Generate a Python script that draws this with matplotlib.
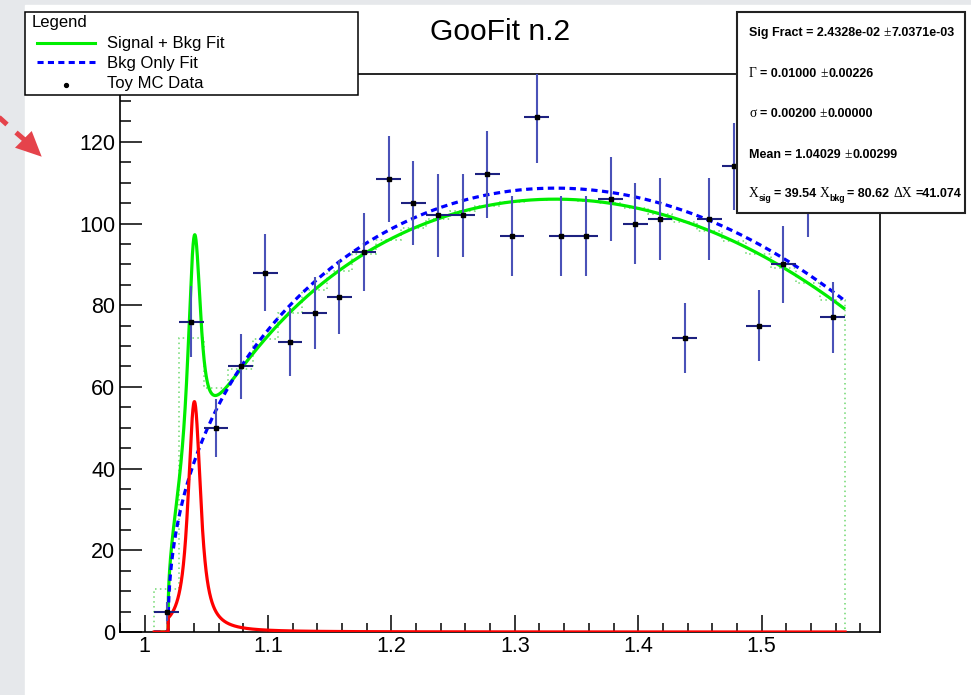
import numpy as np
import matplotlib
matplotlib.use("Agg")
import matplotlib.pyplot as plt
from matplotlib.patches import Rectangle, Polygon
from matplotlib.lines import Line2D
from matplotlib.ticker import MultipleLocator, FixedLocator, FuncFormatter

plt.rcParams["font.family"] = ["Liberation Sans", "DejaVu Sans"]

# ---- Toy MC histogram ----------------------------------------------------
bin_centers = [1.0177, 1.0377, 1.0577, 1.0777, 1.0977, 1.1177, 1.1377,
               1.1577, 1.1777, 1.1977, 1.2177, 1.2377, 1.2577, 1.2777,
               1.2977, 1.3177, 1.3377, 1.3577, 1.3777, 1.3977, 1.4177,
               1.4377, 1.4577, 1.4777, 1.4977, 1.5177, 1.5377, 1.5577]
counts = [5, 76, 50, 65, 88, 71, 78, 82, 93, 111, 105, 102, 102, 112,
          97, 126, 97, 97, 106, 100, 101, 72, 101, 114, 75, 90, 107, 77]
bin_half_width = 0.01

# ---- fit results ---------------------------------------------------------
sig_mean = 1.04029
sig_gamma = 0.01000
sig_sigma = 0.00200
sig_peak = 56.4            # Voigtian height
threshold = 1.0190         # background threshold
bkg_power = 0.45
bkg_coef = [238.2, -89.1, -276.1]
bkg_scale_sb = 0.975       # background level in the signal + bkg fit

stats_lines = [
    [("Sig Fract = 2.4328e-02", "b", 3.5), ("±", "s", 0.5), ("7.0371e-03", "b", 0)],
    [("Γ", "s", 3.5), ("= 0.01000", "b", 4), ("±", "s", 0.5), ("0.00226", "b", 0)],
    [("σ", "s", 3.5), ("= 0.00200", "b", 4), ("±", "s", 0.5), ("0.00000", "b", 0)],
    [("Mean = 1.04029", "b", 4), ("±", "s", 0.5), ("0.00299", "b", 0)],
    [("X", "s", 0), ("sig", "sub", 2), ("= 39.54", "b", 4), ("X", "s", 0),
     ("bkg", "sub", 2), ("= 80.62", "b", 4), ("ΔX", "s", 3.5), ("=41.074", "b", 0)],
]
stats_baselines = [36, 77.3, 116.7, 158.3, 196.7]

# ---- model curves --------------------------------------------------------
edges_lo = np.array(bin_centers) - bin_half_width
edges_hi = np.array(bin_centers) + bin_half_width
dx = 0.0001
xg = np.arange(edges_lo[0], edges_hi[-1] + dx / 2, dx)

hw = sig_gamma / 2
lorentz = (hw / np.pi) / ((xg - sig_mean) ** 2 + hw ** 2)
kx = np.arange(-100, 101) * dx
gauss = np.exp(-kx ** 2 / (2 * sig_sigma ** 2))
gauss /= gauss.sum()
voigt = np.convolve(lorentz, gauss, mode="same")
above = xg >= threshold
sig = np.where(above, voigt / voigt.max() * sig_peak, 0.0)

t = np.clip(xg - threshold, 0, None)
bkg = np.where(above, t ** bkg_power * (bkg_coef[0] + bkg_coef[1] * t + bkg_coef[2] * t ** 2), 0.0)
total = sig + bkg_scale_sb * bkg

edges = np.append(edges_lo, edges_hi[-1])
binned_total = np.array([total[(xg >= lo - dx / 2) & (xg < hi - dx / 2)].mean()
                         for lo, hi in zip(edges_lo, edges_hi)])

# ---- figure --------------------------------------------------------------
W, H = 971, 695
fig = plt.figure(figsize=(W / 100, H / 100), dpi=100)

bg = fig.add_axes([0, 0, 1, 1], zorder=0)
bg.set_xlim(0, W)
bg.set_ylim(H, 0)
bg.axis("off")
bg.add_patch(Rectangle((0, 0), W, H, color="#e6e8eb"))
bg.add_patch(Rectangle((25, 5), W - 25, H - 5, color="white"))

ax = fig.add_axes([120 / W, (H - 632) / H, 760 / W, (632 - 74) / H], zorder=1)
ax.set_xlim(0.98, 1.596)
ax.set_ylim(0, 136.6)

ax.stairs(binned_total, edges, baseline=0, color="#6fd86f", lw=1.1,
          ls=(0, (1, 2.2)), zorder=2)
ax.plot(xg, total, color="#00ee00", lw=2.3, zorder=3, solid_capstyle="butt")
ax.plot(xg, bkg, color="#0000ff", lw=2.3, ls=(0, (2.0, 1.4)), zorder=4)
ax.plot(xg, sig, color="#ff0000", lw=2.3, zorder=5)

cnt = np.array(counts, dtype=float)
err = np.sqrt(cnt)
ax.vlines(bin_centers, cnt - err, cnt + err, color="#4a52b8", lw=1.5, zorder=6)
ax.hlines(cnt, edges_lo, edges_hi, color="#1d2180", lw=1.5, zorder=6)
ax.plot(bin_centers, cnt, "s", color="black", ms=3.2, zorder=7)

ax.xaxis.set_major_locator(FixedLocator([1.0, 1.1, 1.2, 1.3, 1.4, 1.5]))
ax.xaxis.set_minor_locator(MultipleLocator(0.02))
ax.xaxis.set_major_formatter(FuncFormatter(lambda v, p: f"{v:g}"))
ax.yaxis.set_major_locator(MultipleLocator(20))
ax.yaxis.set_minor_locator(MultipleLocator(5))
ax.tick_params(which="both", direction="in", top=False, right=False,
               width=1.1, colors="black", labelsize=15.5)
ax.tick_params(axis="x", which="major", length=12.2, pad=3)
ax.tick_params(axis="x", which="minor", length=6.5)
ax.tick_params(axis="y", which="major", length=15.8, pad=3.5)
ax.tick_params(axis="y", which="minor", length=8)
for sp in ax.spines.values():
    sp.set_linewidth(1.2)

# ---- overlay: title, legend, stats box, arrow -----------------------------
ov = fig.add_axes([0, 0, 1, 1], zorder=3)
ov.set_xlim(0, W)
ov.set_ylim(H, 0)
ov.axis("off")
ov.patch.set_alpha(0)

ov.text(500, 40, "GooFit n.2", ha="center", va="baseline", fontsize=21.6)

ov.add_patch(Rectangle((25, 12), 333, 83, fc="white", ec="black", lw=1.1))
ov.text(32, 27.3, "Legend", ha="left", va="baseline", fontsize=12)
ov.add_line(Line2D([37, 95], [42.7, 42.7], color="#00ee00", lw=2.2))
ov.add_line(Line2D([37, 95], [62.3, 62.3], color="#0000ff", lw=2.2, ls=(0, (2.0, 1.4))))
ov.plot([66], [85], "o", color="black", ms=2.8)
for txt, yb in zip(["Signal + Bkg Fit", "Bkg Only Fit", "Toy MC Data"], [48.3, 67.7, 88.3]):
    ov.text(107, yb, txt, ha="left", va="baseline", fontsize=12)

ov.add_patch(Rectangle((737, 12), 228, 201, fc="white", ec="#222222", lw=1.5))
styles = {
    "b": dict(fontfamily="Liberation Sans", fontweight="bold", fontsize=9.0),
    "s": dict(fontfamily="Liberation Serif", fontsize=9.8),
    "sub": dict(fontfamily="Liberation Sans", fontweight="bold", fontsize=6.3),
}
renderer = fig.canvas.get_renderer()
for segs, yb in zip(stats_lines, stats_baselines):
    x = 749
    for s, st, gap in segs:
        dy = 4 if st == "sub" else 0
        tx = ov.text(x, yb + dy, s, ha="left", va="baseline", **styles[st])
        x += tx.get_window_extent(renderer).width + gap

# red dashed pointer arrow at the left margin
arrow_red = "#e5434b"
for (x0, y0), (x1, y1) in [((-3, 115.5), (7, 124.5)), ((16, 132.5), (27, 142))]:
    ov.add_line(Line2D([x0, x1], [y0, y1], color=arrow_red, lw=3.6,
                       solid_capstyle="butt"))
ov.add_patch(Polygon([(15, 147.7), (31.7, 131), (41.7, 156.7)], closed=True,
                     color=arrow_red, lw=0))

fig.savefig("out.png", dpi=100)
